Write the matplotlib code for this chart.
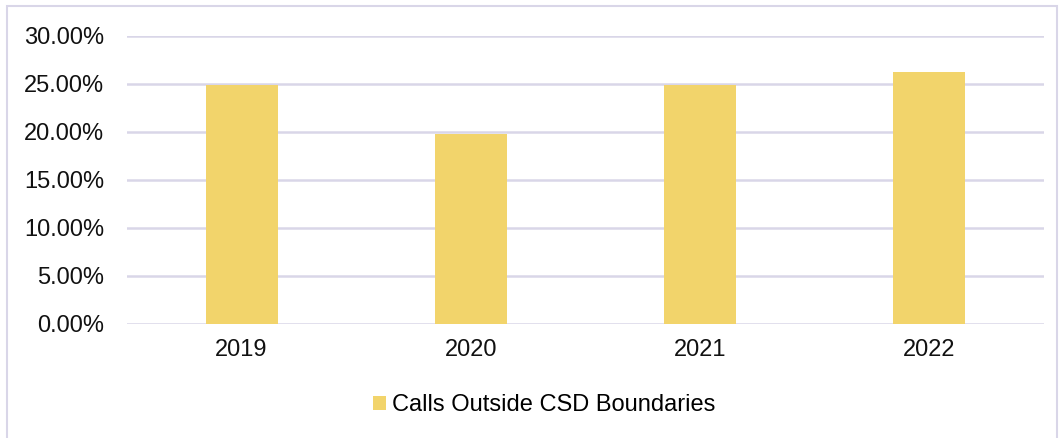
import matplotlib.pyplot as plt
from matplotlib.patches import Rectangle
from matplotlib.ticker import FuncFormatter

years = ["2019", "2020", "2021", "2022"]
calls_outside = [24.9, 19.8, 24.9, 26.3]
series_name = "Calls Outside CSD Boundaries"

BAR = "#F2D46B"
GRID = "#D9D6E8"

plt.rcParams["font.family"] = ["Liberation Sans", "DejaVu Sans"]

W, H = 1062, 438
fig = plt.figure(figsize=(W / 100, H / 100), dpi=100)
fig.patch.set_facecolor("white")

# outer chart frame
fig.patches.append(Rectangle((7 / W, -0.02), 1050 / W, 1 - 6 / H + 0.02,
                             transform=fig.transFigure, fill=False,
                             edgecolor=GRID, linewidth=1.5))

ax = fig.add_axes([127 / W, 1 - 324 / H, (1044 - 127) / W, (324 - 36) / H])
x = range(len(years))
ax.bar(x, calls_outside, width=0.314, color=BAR, zorder=3, label=series_name)

ax.set_xlim(-0.5, len(years) - 0.5)
ax.set_ylim(0, 30)
ax.set_yticks(range(0, 31, 5))
ax.yaxis.set_major_formatter(FuncFormatter(lambda v, _: f"{v:.2f}%"))
ax.set_xticks(list(x))
ax.set_xticklabels(years)
ax.grid(axis="y", color=GRID, linewidth=1.8, zorder=0)
ax.tick_params(length=0, labelsize=17, colors="#111111")
ax.tick_params(axis="y", pad=16.5)
ax.tick_params(axis="x", pad=11)
for s in ax.spines.values():
    s.set_visible(False)

fig.legend(loc="center", bbox_to_anchor=(544 / W, 1 - 405 / H), frameon=False,
           fontsize=17, handlelength=0.55, handleheight=0.55, handletextpad=0.25)

fig.savefig("out.png", dpi=100)
